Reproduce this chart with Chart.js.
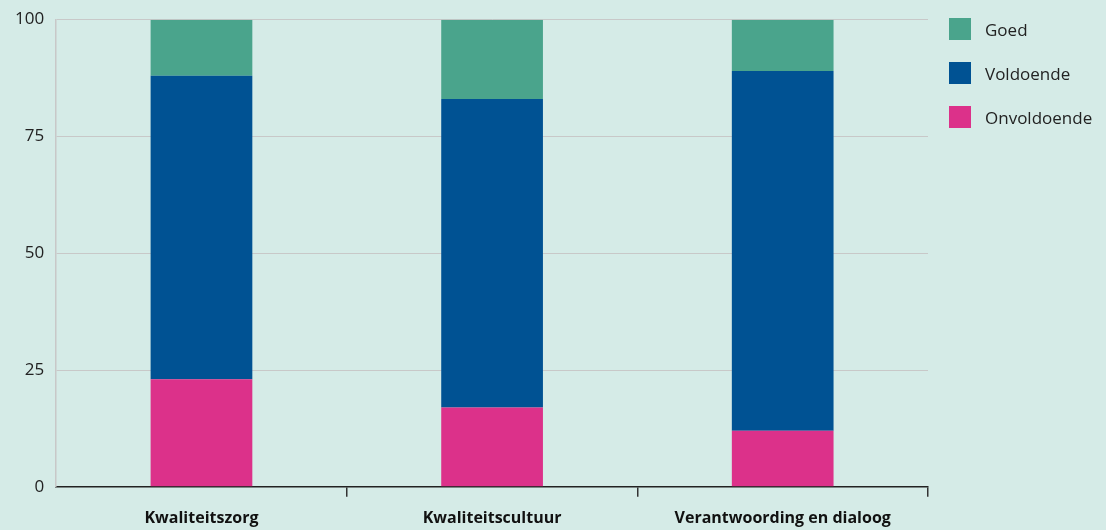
<!DOCTYPE html>
<html>
<head>
<meta charset="utf-8">
<script src="https://cdn.jsdelivr.net/npm/chart.js@4"></script>
<style>
  html, body { margin: 0; padding: 0; background: #d5ebe7; }
  #wrap { position: relative; width: 1106px; height: 530px; }
  #legend { position: absolute; left: 949px; top: 18px; font-family: "Open Sans", sans-serif; font-size: 17px; color: #222; }
  .item { display: flex; align-items: center; height: 22px; margin-bottom: 22px; }
  .box { width: 22px; height: 22px; margin-right: 14px; }
</style>
</head>
<body>
<div id="wrap">
  <canvas id="barChart" width="1106" height="530"></canvas>
  <div id="legend"></div>
</div>
<script>
const categorieen = ["Kwaliteitszorg", "Kwaliteitscultuur", "Verantwoording en dialoog"];
const onvoldoende = [23, 17, 12];
const voldoende = [65, 66, 77];
const goed = [12, 17, 11];
const yTicks = [0, 25, 50, 75, 100];

const kleuren = { Onvoldoende: '#dc318a', Voldoende: '#005293', Goed: '#4aa48c' };
const ctx = document.getElementById('barChart').getContext('2d');

let datasets = [
    { label: 'Onvoldoende', data: onvoldoende, backgroundColor: kleuren.Onvoldoende },
    { label: 'Voldoende', data: voldoende, backgroundColor: kleuren.Voldoende },
    { label: 'Goed', data: goed, backgroundColor: kleuren.Goed }
];

let barChart = new Chart(ctx, {
    type: 'bar',
    data: { labels: categorieen, datasets: datasets },
    options: {
        responsive: false,
        animation: false,
        categoryPercentage: 0.7,
        barPercentage: 0.5,
        layout: { padding: { left: 3, right: 178, top: 0, bottom: -10 } },
        plugins: { legend: { display: false }, tooltip: { enabled: false } },
        scales: {
            x: {
                stacked: true,
                grid: {
                    offset: true,
                    drawOnChartArea: false,
                    tickLength: 10,
                    lineWidth: 1.5,
                    color: (c) => c.index === 0 ? 'rgba(0,0,0,0)' : '#333'
                },
                border: { color: '#222', width: 1.5 },
                ticks: {
                    color: '#111',
                    padding: 12,
                    font: { family: 'Open Sans', size: 16, weight: 'bold' }
                }
            },
            y: {
                stacked: true,
                min: 0,
                max: 100,
                afterBuildTicks: (axis) => { axis.ticks = yTicks.map(v => ({ value: v })); },
                grid: { color: '#c8c8c8', drawTicks: false, lineWidth: 1 },
                border: { color: '#c8c8c8', width: 1.5 },
                ticks: {
                    color: '#222',
                    padding: 12,
                    font: { family: 'Open Sans', size: 17, lineHeight: 0.9 }
                }
            }
        }
    }
});

let legenda = document.getElementById('legend');
datasets.slice().reverse().forEach(d => {
    let el = document.createElement('div');
    el.className = 'item';
    el.innerHTML = `<div class="box" style="background:${d.backgroundColor}"></div><span>${d.label}</span>`;
    legenda.appendChild(el);
});
</script>
</body>
</html>
